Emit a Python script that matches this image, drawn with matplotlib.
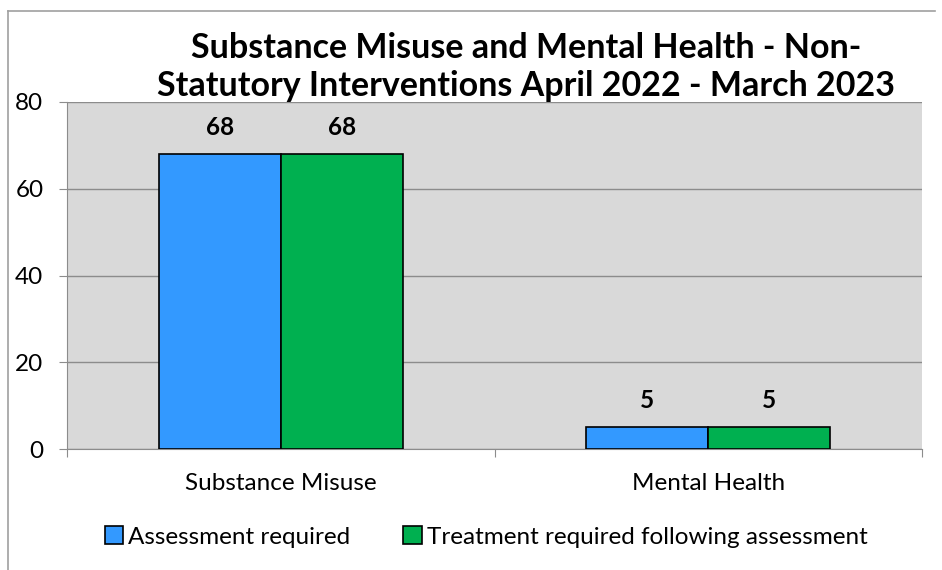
import numpy as np
import matplotlib
matplotlib.use("Agg")
import matplotlib.pyplot as plt
from matplotlib.patches import Patch
from matplotlib.lines import Line2D

categories = ["Substance Misuse", "Mental Health"]
series_names = ["Assessment required", "Treatment required following assessment"]
assessment = [68, 5]
treatment = [68, 5]
yticks = [0, 20, 40, 60, 80]

BLUE = "#3399FF"
GREEN = "#00B050"
BG = "#D9D9D9"
GRID = "#8C8C8C"

plt.rcParams["font.family"] = ["Lato", "DejaVu Sans"]

fig = plt.figure(figsize=(9.42, 5.70), dpi=100)
W, H = 942, 570

# outer chart border (left and top visible)
fig.add_artist(Line2D([8 / W, 8 / W], [0, 1 - 11 / H], color="#A0A0A0", lw=1.2))
fig.add_artist(Line2D([8 / W, 935 / W], [1 - 11 / H, 1 - 11 / H], color="#A0A0A0", lw=1.2))

ax = fig.add_axes([67 / W, 1 - 449 / H, 855 / W, 347 / H])
ax.set_facecolor(BG)

x = np.arange(len(categories))
bw = 0.285
b1 = ax.bar(x - bw / 2, assessment, bw, color=BLUE, edgecolor="black", linewidth=1.2, zorder=3)
b2 = ax.bar(x + bw / 2, treatment, bw, color=GREEN, edgecolor="black", linewidth=1.2, zorder=3)

for bars in (b1, b2):
    for r in bars:
        ax.annotate(f"{r.get_height():g}", (r.get_x() + r.get_width() / 2, r.get_height()),
                    xytext=(0, 19), textcoords="offset points", ha="center", va="center",
                    fontsize=17.5, fontweight="bold")

ax.set_xlim(-0.5, 1.5)
ax.set_ylim(0, 80)
ax.set_yticks(yticks)
ax.yaxis.grid(True, color=GRID, lw=1.0, zorder=0)
ax.set_axisbelow(True)
ax.set_xticks([-0.5, 0.5, 1.5], minor=False)
ax.set_xticklabels([])
ax.set_xticks(x, minor=True)
ax.set_xticklabels(categories, minor=True, fontsize=17.5)
ax.tick_params(axis="x", which="major", length=6, color=GRID, direction="out")
ax.tick_params(axis="x", which="minor", length=0, pad=17)
ax.tick_params(axis="y", length=6, color=GRID, labelsize=17.5, pad=11)
for s in ("top", "right"):
    ax.spines[s].set_visible(False)
for s in ("left", "bottom"):
    ax.spines[s].set_color(GRID)

fig.text(526 / W, 1 - 67 / H, "Substance Misuse and Mental Health - Non-\nStatutory Interventions April 2022 - March 2023",
         ha="center", va="center", fontsize=24.5, fontweight="bold", linespacing=1.25)

handles = [Patch(facecolor=BLUE, edgecolor="black", lw=1.2), Patch(facecolor=GREEN, edgecolor="black", lw=1.2)]
fig.legend(handles, series_names, loc="center", bbox_to_anchor=(486 / W, 1 - 537 / H), ncol=2,
           frameon=False, fontsize=17.5, handlelength=0.75, handleheight=0.75, handletextpad=0.2,
           columnspacing=2.2)

fig.savefig("out.png", dpi=100)
